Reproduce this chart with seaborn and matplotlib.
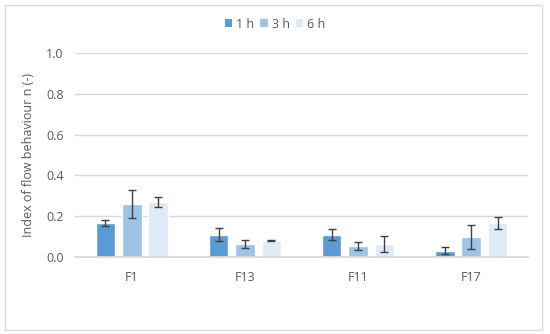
import matplotlib
matplotlib.use("Agg")
import matplotlib.pyplot as plt
import seaborn as sns
import pandas as pd
from matplotlib.patches import Rectangle, Patch

categories = ["F1", "F13", "F11", "F17"]
times = ["1 h", "3 h", "6 h"]
values_1h = [0.165, 0.11, 0.11, 0.031]
values_3h = [0.26, 0.065, 0.053, 0.097]
values_6h = [0.27, 0.08, 0.065, 0.165]
err_1h = [0.015, 0.03, 0.025, 0.017]
err_3h = [0.07, 0.02, 0.02, 0.058]
err_6h = [0.025, 0.003, 0.04, 0.03]
colors = ["#5B9BD5", "#9DC3E6", "#DEEBF7"]

rows = []
for t, vals in zip(times, [values_1h, values_3h, values_6h]):
    for c, v in zip(categories, vals):
        rows.append({"Sample": c, "Time": t, "n": v})
df = pd.DataFrame(rows)

sns.set_theme(style="white")
plt.rcParams["font.family"] = ["Open Sans", "DejaVu Sans"]

fig = plt.figure(figsize=(5.5, 3.34), dpi=100)
ax = fig.add_axes([75 / 550, 1 - 257 / 334, (528 - 75) / 550, (257 - 53) / 334])

sns.barplot(data=df, x="Sample", y="n", hue="Time", order=categories,
            hue_order=times, palette=colors, width=0.7, gap=0.26,
            errorbar=None, ax=ax, legend=False, saturation=1)

for cont, errs in zip(ax.containers, [err_1h, err_3h, err_6h]):
    xs = [b.get_x() + b.get_width() / 2 for b in cont]
    ys = [b.get_height() for b in cont]
    ax.errorbar(xs, ys, yerr=errs, fmt="none", ecolor="#404040",
                elinewidth=1, capsize=3, capthick=1)

ax.set_ylim(0, 1.0)
ax.set_yticks([0, 0.2, 0.4, 0.6, 0.8, 1.0])
ax.set_yticklabels(["0.0", "0.2", "0.4", "0.6", "0.8", "1.0"])
ax.yaxis.grid(True, color="#D9D9D9", linewidth=1)
ax.set_axisbelow(True)
for s in ["top", "right", "left"]:
    ax.spines[s].set_visible(False)
ax.spines["bottom"].set_color("#D9D9D9")
ax.tick_params(axis="y", length=0, labelsize=9, colors="#595959", pad=8)
ax.tick_params(axis="x", length=0, labelsize=9, colors="#595959", pad=10)
ax.set_xlabel("")
ax.set_ylabel("Index of flow behaviour n (-)", fontsize=9, color="#595959", labelpad=8)

handles = [Patch(facecolor=c, edgecolor="none") for c in colors]
fig.legend(handles, times, loc="center", bbox_to_anchor=(275 / 550, 1 - 24 / 334),
           ncol=3, frameon=False, fontsize=9, handlelength=0.6, handleheight=0.6,
           handletextpad=0.3, columnspacing=0.5, labelcolor="#595959")

fig.patches.append(Rectangle((5 / 550, 4 / 334), 537 / 550, 325 / 334, transform=fig.transFigure,
                             fill=False, edgecolor="#D9D9D9", linewidth=1))

fig.savefig("out.png", dpi=100)
